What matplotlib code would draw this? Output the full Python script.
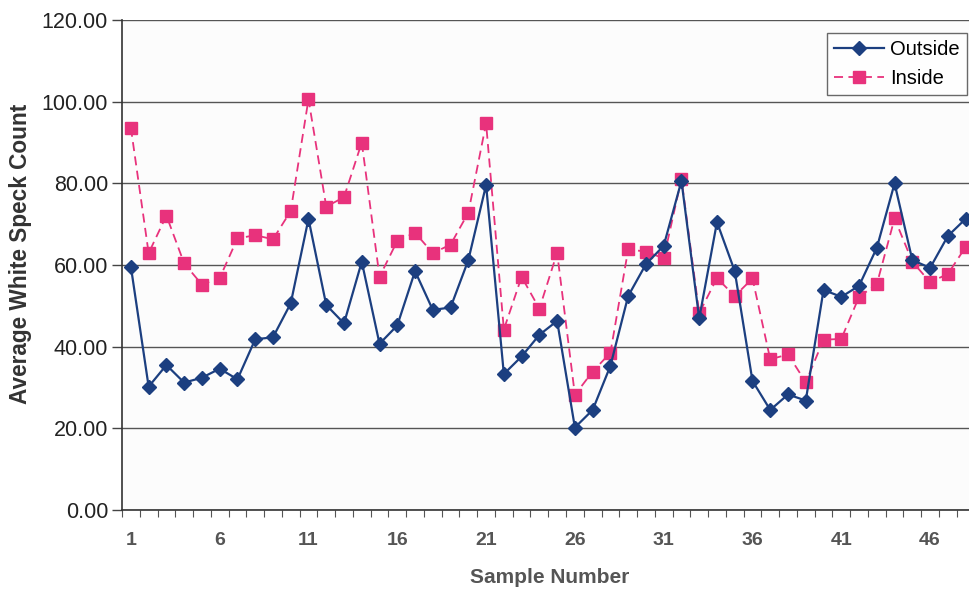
import matplotlib
matplotlib.use("Agg")
import matplotlib.pyplot as plt
import numpy as np

plt.rcParams['font.family'] = ['Liberation Sans', 'DejaVu Sans']

samples = list(range(1, 49))
outside = [59.6, 30.2, 35.5, 31.2, 32.4, 34.6, 32.0, 41.8, 42.3, 50.6,
           71.3, 50.2, 45.7, 60.8, 40.7, 45.2, 58.5, 49.0, 49.6, 61.2,
           79.6, 33.3, 37.6, 42.9, 46.3, 20.2, 24.5, 35.3, 52.4, 60.2,
           64.7, 80.6, 46.9, 70.5, 58.5, 31.6, 24.5, 28.3, 26.8, 53.9,
           52.2, 54.9, 64.2, 80.0, 61.2, 59.3, 67.1, 71.3]
inside = [93.6, 62.9, 72.1, 60.4, 55.2, 56.8, 66.5, 67.3, 66.3, 73.2,
          100.6, 74.3, 76.6, 90.0, 57.1, 65.9, 67.9, 62.9, 65.0, 72.8,
          94.7, 44.2, 57.1, 49.3, 63.0, 28.2, 33.9, 38.5, 63.8, 63.3,
          61.6, 81.1, 48.2, 56.8, 52.4, 56.7, 36.9, 38.1, 31.3, 41.7,
          41.9, 52.2, 55.3, 71.4, 60.8, 55.8, 57.8, 64.4]
yticks = [0, 20, 40, 60, 80, 100, 120]
xtick_labels = [1, 6, 11, 16, 21, 26, 31, 36, 41, 46]

W, H = 969, 590
fig = plt.figure(figsize=(W / 100, H / 100), dpi=100)
left_px, right_px, top_px, bottom_px = 122, 974.5, 20, 510
ax_w = right_px - left_px
ax_h = bottom_px - top_px
ax = fig.add_axes([left_px / W, (H - bottom_px) / H, ax_w / W, ax_h / H])
ax.set_facecolor('#fcfcfc')

navy = '#1c3f80'
pink = '#e8327c'
ax.plot(samples, outside, color=navy, lw=1.6, marker='D', ms=7.5,
        mfc=navy, mec=navy, label='Outside', zorder=4)
ax.plot(samples, inside, color=pink, lw=1.3, ls=(0, (5, 3)), marker='s', ms=9,
        mfc=pink, mec=pink, label='Inside', zorder=3)

ax.set_xlim(0.5, 48.5)
ax.set_ylim(0, 120)

ax.set_yticks(yticks)
ax.set_yticklabels([f"{v:.2f}" for v in yticks], fontsize=15.5, color='#222222')
ax.yaxis.grid(True, color='#555555', lw=1.0)
ax.set_axisbelow(True)
ax.tick_params(axis='y', direction='out', length=7, width=1, color='#444444', pad=3)

ax.set_xticks(xtick_labels)
ax.set_xticklabels([str(v) for v in xtick_labels], fontsize=14, fontweight='bold',
                   color='#555555')
ax.set_xticks(np.arange(0.5, 48.6, 1.0), minor=True)
ax.tick_params(axis='x', which='major', length=0, pad=16)
ax.tick_params(axis='x', which='minor', direction='out', length=5, width=0.8,
               color='#555555')

for s in ['top', 'right']:
    ax.spines[s].set_visible(False)
ax.spines['left'].set_color('#333333')
ax.spines['bottom'].set_color('#333333')
ax.spines['left'].set_linewidth(1.2)
ax.spines['bottom'].set_linewidth(1.2)

ax.set_xlabel('Sample Number', fontsize=15, fontweight='bold', color='#555555')
ax.xaxis.set_label_coords((550 - left_px) / ax_w, -(568 - bottom_px) / ax_h)
ax.set_ylabel('Average White Speck Count', fontsize=16.3, fontweight='bold',
              color='#333333')
ax.yaxis.set_label_coords(-(left_px - 32) / ax_w, (bottom_px - 254) / ax_h)

leg = ax.legend(loc='upper right', bbox_to_anchor=(967 / W, 1 - 33 / H),
                bbox_transform=fig.transFigure, fontsize=14.5, frameon=True,
                fancybox=False, edgecolor='#444444', handlelength=2.5,
                borderpad=0.35, labelspacing=0.5, handletextpad=0.3,
                borderaxespad=0)
leg.get_frame().set_linewidth(1.0)

fig.savefig('out.png', dpi=100)
